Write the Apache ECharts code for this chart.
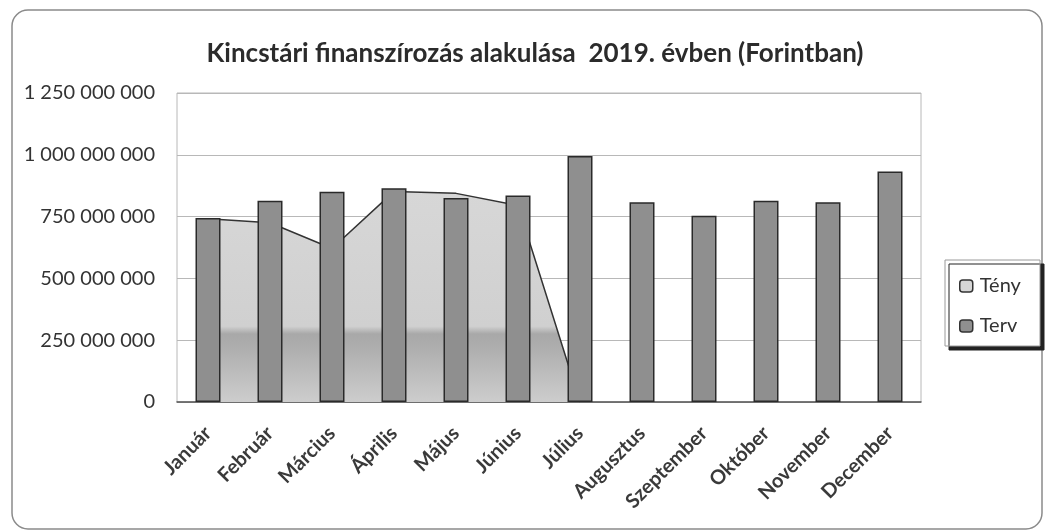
<!DOCTYPE html>
<html>
<head>
<meta charset="utf-8">
<script src="https://cdn.jsdelivr.net/npm/echarts@6/dist/echarts.min.js"></script>
<style>
  html, body { margin: 0; padding: 0; background: #fff; }
  #chart { width: 1045px; height: 532px; }
</style>
</head>
<body>
<div id="chart"></div>
<script>
// havi adatok (Ft)
var months = ['Január', 'Február', 'Március', 'Április', 'Május', 'Június',
  'Július', 'Augusztus', 'Szeptember', 'Október', 'November', 'December'];
var teny = [741000000, 725000000, 621000000, 852000000, 844000000, 795000000, 0,
  null, null, null, null, null];
var terv = [744000000, 814000000, 851000000, 865000000, 825000000, 835000000,
  995000000, 808000000, 753000000, 814000000, 808000000, 932000000];
var yTicks = [0, 250000000, 500000000, 750000000, 1000000000, 1250000000];

var font = 'Lato, "Open Sans", sans-serif';

function fmt(v) {
  return String(v).replace(/\B(?=(\d{3})+(?!\d))/g, ' ');
}

var chart = echarts.init(document.getElementById('chart'));
chart.setOption({
  animation: false,
  backgroundColor: '#fff',
  textStyle: { fontFamily: font },
  title: {
    text: 'Kincstári finanszírozás alakulása  2019. évben (Forintban)',
    left: 530,
    textAlign: 'center',
    top: 36,
    textStyle: { fontFamily: font, fontSize: 26, fontWeight: 'bold', color: '#2b2b2b' }
  },
  graphic: [
    {
      // keret
      type: 'rect',
      shape: { x: 12, y: 10, width: 1030, height: 519, r: 16 },
      style: { fill: 'none', stroke: '#8a8a8a', lineWidth: 1.5 },
      z: 0
    },
    {
      // jelmagyarázat doboz
      type: 'rect',
      shape: { x: 945, y: 260, width: 95, height: 86 },
      style: {
        fill: '#fff', stroke: '#9a9a9a', lineWidth: 1,
        shadowColor: '#222', shadowOffsetX: 4, shadowOffsetY: 4, shadowBlur: 0
      },
      z: 1
    }
  ],
  legend: {
    orient: 'vertical',
    left: 954,
    top: 271,
    itemWidth: 13,
    itemHeight: 12,
    itemGap: 20,
    icon: 'roundRect',
    textStyle: { fontFamily: font, fontSize: 20, color: '#333', padding: [0, 0, 0, 2] },
    data: [
      { name: 'Tény', itemStyle: { color: '#d6d6d6', borderColor: '#333', borderWidth: 1.5 } },
      { name: 'Terv', itemStyle: { color: '#8f8f8f', borderColor: '#333', borderWidth: 1.5 } }
    ],
    z: 5
  },
  grid: {
    left: 177,
    right: 124,
    top: 93,
    bottom: 130,
    show: true,
    borderColor: '#b8b8b8',
    borderWidth: 1
  },
  xAxis: {
    type: 'category',
    data: months,
    axisLine: { lineStyle: { color: '#555', width: 1.5 } },
    axisTick: { show: false },
    axisLabel: {
      rotate: 45,
      interval: 0,
      margin: 28,
      fontFamily: font,
      fontSize: 20,
      fontWeight: 'bold',
      color: '#3a3a3a'
    }
  },
  yAxis: {
    type: 'value',
    min: yTicks[0],
    max: yTicks[yTicks.length - 1],
    interval: yTicks[1] - yTicks[0],
    axisLine: { show: false },
    axisTick: { show: false },
    splitLine: { lineStyle: { color: '#b8b8b8', width: 1 } },
    axisLabel: {
      margin: 22,
      fontFamily: font,
      fontSize: 20,
      color: '#333',
      formatter: fmt
    }
  },
  series: [
    {
      name: 'Tény',
      type: 'line',
      data: teny,
      symbol: 'none',
      z: 1,
      lineStyle: { color: '#333', width: 1.5 },
      itemStyle: { color: '#d6d6d6' },
      areaStyle: {
        opacity: 1,
        color: {
          type: 'linear', x: 0, y: 93, x2: 0, y2: 402, global: true,
          colorStops: [
            { offset: 0, color: '#dcdcdc' },
            { offset: 0.755, color: '#d0d0d0' },
            { offset: 0.78, color: '#a8a8a8' },
            { offset: 0.83, color: '#afafaf' },
            { offset: 1, color: '#cdcdcd' }
          ]
        }
      }
    },
    {
      name: 'Terv',
      type: 'bar',
      data: terv,
      barWidth: 25,
      z: 2,
      itemStyle: { color: '#8f8f8f', borderColor: '#2a2a2a', borderWidth: 1.5 }
    }
  ]
});
</script>
</body>
</html>
